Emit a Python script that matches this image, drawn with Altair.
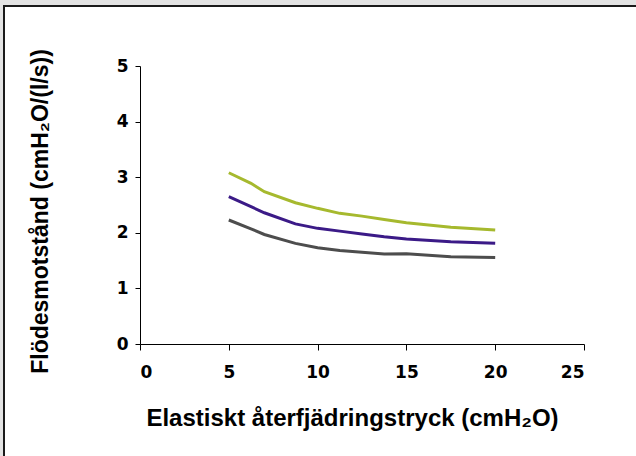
import altair as alt
import pandas as pd

# Data
x_vals = [5, 6.25, 7, 8.75, 10, 11.25, 12.5, 13.75, 15, 17.5, 20]
green = [3.08, 2.89, 2.74, 2.54, 2.44, 2.35, 2.30, 2.24, 2.18, 2.10, 2.05]
purple = [2.65, 2.47, 2.36, 2.16, 2.08, 2.03, 1.98, 1.93, 1.89, 1.84, 1.81]
gray = [2.23, 2.07, 1.97, 1.81, 1.73, 1.68, 1.65, 1.62, 1.625, 1.57, 1.555]
series_names = ["A", "B", "C"]
series_colors = ["#a6b92e", "#3b1a87", "#4d4d4d"]

x_ticks = [0, 5, 10, 15, 20, 25]
y_ticks = [0, 1, 2, 3, 4, 5]

rows = []
for name, vals in zip(series_names, [green, purple, gray]):
    for xv, yv in zip(x_vals, vals):
        rows.append({"x": xv, "y": yv, "s": name})
df = pd.DataFrame(rows)

FONT = "Liberation Sans"
LABEL_FONT = "DejaVu Sans"

frame = alt.Chart(pd.DataFrame({"k": [0]})).mark_rect(
    fill="white", stroke="#1a1a1a", strokeWidth=2
).encode(
    x=alt.value(-136), x2=alt.value(500),
    y=alt.value(-60), y2=alt.value(400),
)

lines = alt.Chart(df).mark_line(strokeWidth=3).encode(
    x=alt.X(
        "x:Q",
        scale=alt.Scale(domain=[0, 25], nice=False, zero=False),
        axis=alt.Axis(
            values=x_ticks, title="Elastiskt återfjädringstryck (cmH₂O)",
            titleX=212, titleY=81, titleBaseline="alphabetic", titleFontSize=24,
            labelPadding=14, tickSize=6, grid=False, zindex=2,
        ),
    ),
    y=alt.Y(
        "y:Q",
        scale=alt.Scale(domain=[0, 5], nice=False),
        axis=alt.Axis(
            values=y_ticks, title="Flödesmotstånd (cmH₂O/(l/s))",
            titleX=-100, titleY=145, titleAngle=-90,
            titleBaseline="middle", titleAlign="center", titleFontSize=23,
            labelPadding=7, tickSize=5, grid=False, zindex=2,
        ),
    ),
    color=alt.Color(
        "s:N",
        scale=alt.Scale(domain=series_names, range=series_colors),
        legend=None,
    ),
)

chart = alt.layer(frame, lines).properties(
    width=444, height=278,
    autosize=alt.AutoSizeParams(type="none"),
    padding={"left": 140, "top": 66, "right": 52, "bottom": 112},
    background="#e3e3e3",
).configure_view(stroke=None).configure_axis(
    domainColor="#000000", domainWidth=1,
    tickColor="#000000", tickWidth=1,
    labelFont=LABEL_FONT, labelFontSize=17, labelFontWeight="bold", labelColor="#000000",
    titleFont=FONT, titleFontWeight="bold", titleColor="#000000",
)

chart.save("out.html", embed_options={"renderer": "svg", "actions": False})
